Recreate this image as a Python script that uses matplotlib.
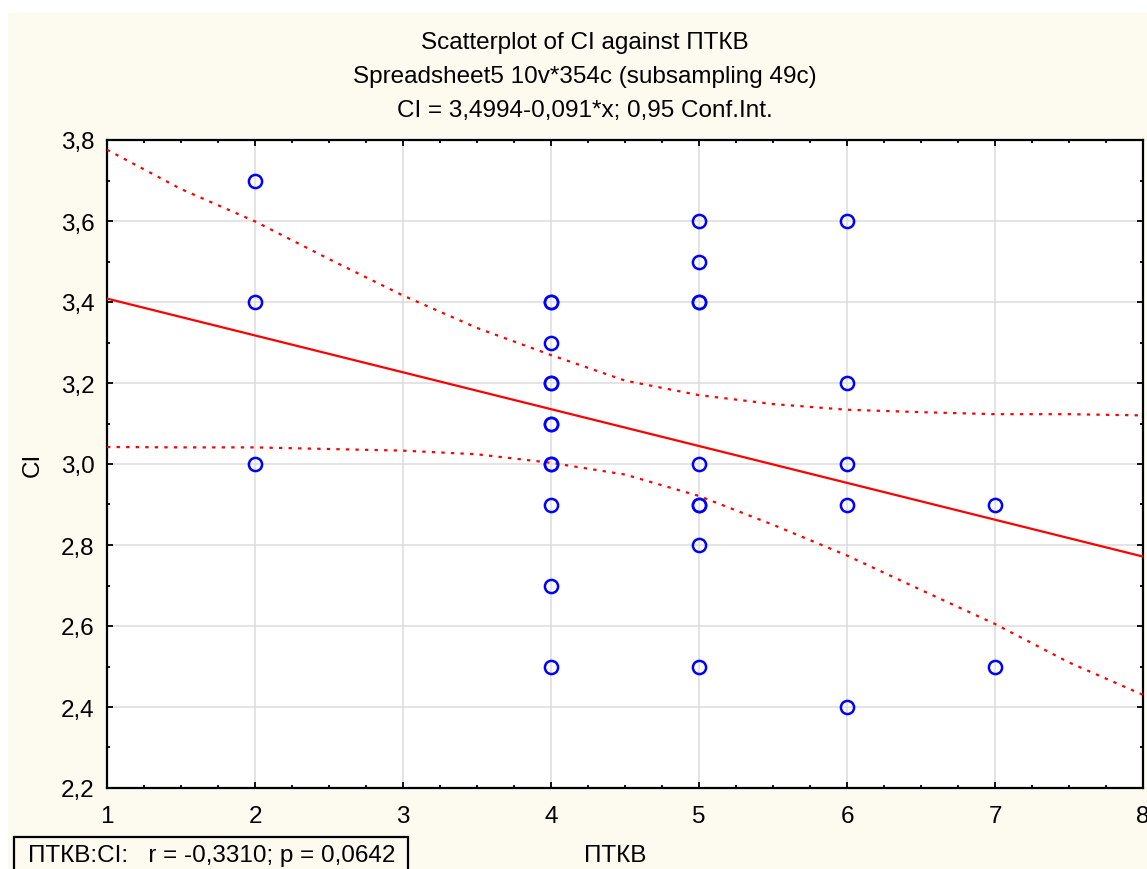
import numpy as np
import matplotlib.pyplot as plt
from matplotlib.patches import Rectangle
from matplotlib.ticker import MultipleLocator

# ПТКВ / CI observations (repeated pairs are listed twice)
ptkv = [2, 2, 2,
        4, 4, 4, 4, 4, 4, 4, 4, 4, 4, 4, 4,
        5, 5, 5, 5, 5, 5, 5, 5, 5,
        6, 6, 6, 6, 6,
        7, 7]
ci = [3.7, 3.4, 3.0,
      3.4, 3.4, 3.3, 3.2, 3.2, 3.1, 3.1, 3.0, 3.0, 2.9, 2.7, 2.5,
      3.6, 3.5, 3.4, 3.4, 3.0, 2.9, 2.9, 2.8, 2.5,
      3.6, 3.2, 3.0, 2.9, 2.4,
      2.9, 2.5]

# fitted line CI = 3,4994-0,091*x
intercept = 3.4994
slope = -0.091

# 0,95 confidence band
band_x = [1, 1.5, 2, 2.5, 3, 3.5, 4, 4.5, 5, 5.5, 6, 6.5, 7, 7.5, 8]
band_upper = [3.776, 3.679, 3.599, 3.506, 3.416, 3.336, 3.269, 3.206, 3.170,
              3.148, 3.134, 3.128, 3.123, 3.123, 3.120]
band_lower = [3.042, 3.041, 3.041, 3.037, 3.033, 3.024, 3.003, 2.974, 2.921,
              2.850, 2.774, 2.689, 2.605, 2.510, 2.430]

x_ticks = [1, 2, 3, 4, 5, 6, 7, 8]
y_ticks = [2.2, 2.4, 2.6, 2.8, 3.0, 3.2, 3.4, 3.6, 3.8]
y_ticklabels = ['2,2', '2,4', '2,6', '2,8', '3,0', '3,2', '3,4', '3,6', '3,8']

title_lines = ['Scatterplot of CI against ПТКВ',
               'Spreadsheet5 10v*354c (subsampling 49c)',
               'CI = 3,4994-0,091*x; 0,95 Conf.Int.']
stat_text = 'ПТКВ:CI:   r = -0,3310; p = 0,0642'

plt.rcParams['font.family'] = ['Liberation Sans', 'DejaVu Sans']
fs = 17.5

W, H = 1147, 870
cream = '#FDFAF0'
fig = plt.figure(figsize=(W / 100, H / 100), dpi=100, facecolor='white')

# cream panel behind everything, leaving a white strip at top and left
fig.patches.append(Rectangle((8 / W, 0), 1, 1 - 14 / H, transform=fig.transFigure,
                             facecolor=cream, edgecolor='none', zorder=-10))

ax = fig.add_axes([107 / W, 81 / H, (1143 - 107) / W, (789 - 141) / H])
ax.set_facecolor('white')

ax.grid(True, color='#DCDCDC', linewidth=1.1, zorder=0)
ax.set_axisbelow(True)

xs = np.array([1, 8])
ax.plot(xs, intercept + slope * xs, color='#FF0000', linewidth=1.6, zorder=3)
ax.plot(band_x, band_upper, color='#FF0000', linewidth=1.6,
        linestyle=(0, (1.5, 2.8)), zorder=3)
ax.plot(band_x, band_lower, color='#FF0000', linewidth=1.6,
        linestyle=(0, (1.5, 2.8)), zorder=3)

ax.plot(ptkv, ci, linestyle='none', marker='o', markersize=9.5,
        markerfacecolor='none', markeredgecolor='#0000FF', markeredgewidth=1.8,
        zorder=4, clip_on=False)

ax.set_xlim(1, 8)
ax.set_ylim(2.2, 3.8)
ax.set_xticks(x_ticks)
ax.set_xticklabels([str(t) for t in x_ticks])
ax.set_yticks(y_ticks)
ax.set_yticklabels(y_ticklabels)
ax.xaxis.set_minor_locator(MultipleLocator(0.25))
ax.yaxis.set_minor_locator(MultipleLocator(0.1))

ax.tick_params(which='both', direction='in', top=True, right=True,
               colors='black', labelsize=fs)
ax.tick_params(which='major', length=4.5, width=1.3)
ax.tick_params(which='minor', length=2.5, width=1.3)
ax.tick_params(axis='x', pad=12)
ax.tick_params(axis='y', pad=9)
for side in ax.spines.values():
    side.set_linewidth(1.6)
    side.set_color('black')

ax.set_ylabel('CI', fontsize=fs, labelpad=12)
fig.text(615 / W, 1 - 856 / H, 'ПТКВ', fontsize=fs, ha='center', va='center')

for i, line in enumerate(title_lines):
    fig.text(585 / W, 1 - (43 + 34 * i) / H, line,
             fontsize=fs, ha='center', va='center')

# statistics box at the lower left
fig.patches.append(Rectangle((14 / W, -0.02), (408 - 14) / W, 0.02 + (H - 838) / H,
                             transform=fig.transFigure, facecolor=cream,
                             edgecolor='black', linewidth=1.6, zorder=2))
fig.text(28 / W, 1 - 856 / H, stat_text, fontsize=fs, ha='left', va='center',
         zorder=3)

fig.savefig('out.png', dpi=100, facecolor=fig.get_facecolor())
